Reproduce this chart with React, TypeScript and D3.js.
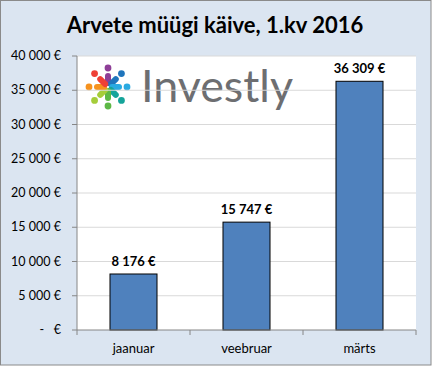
import React from 'react';
import * as d3 from 'd3';

const months = ['jaanuar', 'veebruar', 'märts'];
const revenue = [8176, 15747, 36309];
const yTicks = [0, 5000, 10000, 15000, 20000, 25000, 30000, 35000, 40000];
const chartTitle = 'Arvete müügi käive, 1.kv 2016';
const logoColors = ['#8e3f97', '#1f75bc', '#2aaae1', '#15a49a', '#5db846', '#a5cd3a', '#f6921e', '#ee4036'];

const W = 432;
const H = 366;
const plot = { left: 77, right: 416, top: 56, bottom: 330 };
const font = 'Lato, "Open Sans", sans-serif';

const euro = d3.formatLocale({ decimal: ',', thousands: ' ', grouping: [3], currency: ['', ' €'] });
const fmt = euro.format(',d');
const money = (v: number) => (v === 0 ? '-   €' : `${fmt(v)} €`);

export default function App() {
  const y = d3.scaleLinear().domain([0, 40000]).range([plot.bottom, plot.top]);
  const x = d3.scaleBand<string>().domain(months).range([plot.left, plot.right])
    .paddingInner(0.584).paddingOuter(0.292);
  const cat = d3.scaleBand<string>().domain(months).range([plot.left, plot.right]);
  const bounds = months.map(m => cat(m)!).concat([plot.right]);

  const lc = { x: 108, y: 87 };

  return (
    <svg width={W} height={H} style={{ position: 'absolute', left: 0, top: 0 }}>
      <rect x={0.5} y={0.5} width={W - 1.5} height={H - 1.5} fill="#dbe5f1" stroke="#8a8a8a" />
      <text x={215} y={33} textAnchor="middle" fontFamily={font} fontWeight="bold" fontSize={22} fill="#000">
        {chartTitle}
      </text>
      <rect x={plot.left} y={plot.top} width={plot.right - plot.left} height={plot.bottom - plot.top} fill="#fff" />

      {/* logo */}
      <g>
        {logoColors.map((c, i) => {
          const a = (i * Math.PI) / 4 - Math.PI / 2;
          const cx = Math.cos(a), sy = Math.sin(a);
          return (
            <g key={c}>
              <line x1={lc.x + cx * 4} y1={lc.y + sy * 4} x2={lc.x + cx * 11} y2={lc.y + sy * 11}
                stroke={c} strokeWidth={6} strokeLinecap="round" />
              <circle cx={lc.x + cx * 19} cy={lc.y + sy * 19} r={3.4} fill={c} />
            </g>
          );
        })}
        <text x={141} y={102} fontFamily={font} fontWeight={400} fontSize={44} fill="#6d6e71"
          textLength={152} lengthAdjust="spacingAndGlyphs">Investly</text>
      </g>

      {yTicks.map(t => (
        <g key={t}>
          {t > 0 && <line x1={plot.left} x2={plot.right} y1={y(t)} y2={y(t)} stroke="#d9d9d9" />}
          <line x1={plot.left - 5} x2={plot.left} y1={y(t)} y2={y(t)} stroke="#868686" />
          <text x={61} y={y(t) + 4} textAnchor="end" fontFamily={font} fontSize={12.5} fill="#000"
            style={{ whiteSpace: 'pre' }}>{money(t)}</text>
        </g>
      ))}

      {months.map((m, i) => (
        <g key={m}>
          <rect x={x(m)} y={y(revenue[i])} width={x.bandwidth()} height={plot.bottom - y(revenue[i])}
            fill="#4f81bd" stroke="#000" strokeWidth={1} />
          <text x={x(m)! + x.bandwidth() / 2} y={y(revenue[i]) - 8} textAnchor="middle" fontFamily={font}
            fontWeight="bold" fontSize={13} fill="#000">{money(revenue[i])}</text>
          <text x={cat(m)! + cat.bandwidth() / 2} y={353} textAnchor="middle" fontFamily={font} fontSize={13}
            fill="#000">{m}</text>
        </g>
      ))}

      <line x1={plot.left} x2={plot.left} y1={plot.top} y2={plot.bottom} stroke="#868686" />
      <line x1={plot.left} x2={plot.right} y1={plot.bottom} y2={plot.bottom} stroke="#868686" />
      {bounds.map((b, i) => (
        <line key={i} x1={b} x2={b} y1={plot.bottom} y2={plot.bottom + 5} stroke="#868686" />
      ))}
    </svg>
  );
}
